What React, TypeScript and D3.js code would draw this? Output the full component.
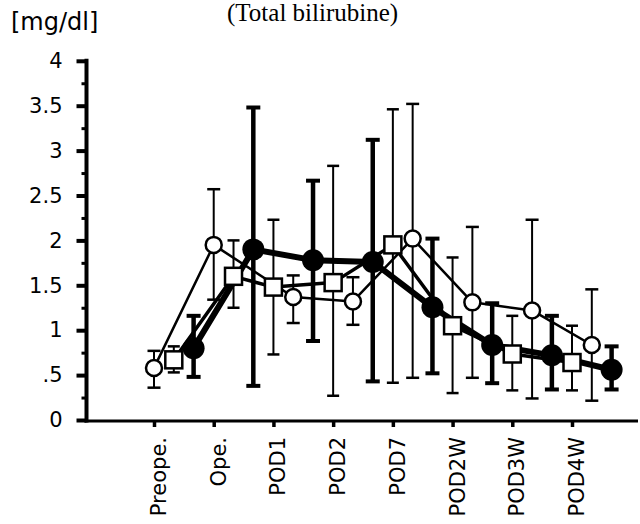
import { useEffect, useRef } from 'react';
import * as d3 from 'd3';

const categories = ['Preope.', 'Ope.', 'POD1', 'POD2', 'POD7', 'POD2W', 'POD3W', 'POD4W'];

// open circles
const openMean = [0.58, 1.95, 1.37, 1.32, 2.02, 1.31, 1.22, 0.835];
const openUpper = [0.77, 2.57, 1.61, 1.59, 3.52, 2.15, 2.23, 1.455];
const openLower = [0.36, 1.34, 1.08, 1.06, 0.47, 0.47, 0.24, 0.215];
const openSlot = [0, 0, 1, 1, 1, 1, 1, 1];

// open squares
const squareMean = [0.67, 1.6, 1.48, 1.53, 1.95, 1.05, 0.735, 0.64];
const squareUpper = [0.82, 2.0, 2.23, 2.83, 3.46, 1.81, 1.16, 1.05];
const squareLower = [0.53, 1.25, 0.73, 0.27, 0.415, 0.3, 0.33, 0.33];
const squareSlot = [1, 1, 0, 0, 0, 0, 0, 0];

// filled circles
const filledMean = [0.8, 1.9, 1.78, 1.76, 1.255, 0.835, 0.72, 0.56];
const filledUpper = [1.16, 3.48, 2.665, 3.12, 2.02, 1.3, 1.16, 0.82];
const filledLower = [0.48, 0.38, 0.88, 0.43, 0.52, 0.41, 0.34, 0.34];
const filledSlot = [2, 2, 2, 2, 2, 2, 2, 2];

const yTicks = [0, 0.5, 1, 1.5, 2, 2.5, 3, 3.5, 4];
const yTickLabels = ['0', '.5', '1', '1.5', '2', '2.5', '3', '3.5', '4'];
const yMinorTicks = [0.25, 0.75, 1.25, 1.75, 2.25, 2.75, 3.25, 3.75];

export default function App() {
  const svgRef = useRef<SVGSVGElement>(null);

  useEffect(() => {
    if (!svgRef.current) return;
    const width = 640;
    const height = 524;
    const axisX = 86.5;
    const axisY = 421;
    const slotW = 19.8;
    const sans = '"DejaVu Sans", sans-serif';

    d3.select(svgRef.current).selectAll('*').remove();
    const svg = d3.select(svgRef.current).attr('width', width).attr('height', height);

    const x = d3.scalePoint<string>().domain(categories).range([154, 572]);
    const y = d3.scaleLinear().domain([0, 4]).range([420, 60.8]);

    // title + unit
    svg.append('text')
      .attr('x', 227).attr('y', 21)
      .style('font-family', '"Liberation Serif", "Times New Roman", serif')
      .style('font-size', '25px')
      .text('(Total bilirubine)');

    svg.append('text')
      .attr('x', 11).attr('y', 30)
      .style('font-family', sans)
      .style('font-size', '24px')
      .text('[mg/dl]');

    // y axis
    const yAxis = svg.append('g')
      .attr('transform', `translate(${axisX},0)`)
      .call(d3.axisLeft(y).tickValues(yTicks).tickFormat((_, i) => yTickLabels[i]).tickSize(10).tickSizeOuter(0).tickPadding(14));
    yAxis.select('.domain').remove();
    yAxis.selectAll('line').attr('stroke', '#000').attr('stroke-width', 4);
    yAxis.selectAll('text')
      .style('font-family', sans)
      .style('font-size', '21px')
      .attr('fill', '#000');

    svg.append('g')
      .attr('transform', `translate(${axisX},0)`)
      .call(d3.axisLeft(y).tickValues(yMinorTicks).tickFormat(() => '').tickSize(5).tickSizeOuter(0))
      .call(g => g.select('.domain').remove())
      .selectAll('line').attr('stroke', '#000').attr('stroke-width', 3);

    svg.append('line')
      .attr('x1', axisX).attr('x2', axisX)
      .attr('y1', y(4) - 2).attr('y2', axisY + 1.5)
      .attr('stroke', '#000').attr('stroke-width', 4);

    // x axis
    svg.append('line')
      .attr('x1', axisX - 2).attr('x2', 638)
      .attr('y1', axisY).attr('y2', axisY)
      .attr('stroke', '#000').attr('stroke-width', 3);

    const xAxis = svg.append('g')
      .attr('transform', `translate(0,${axisY})`)
      .call(d3.axisBottom(x).tickSize(6).tickSizeOuter(0).tickFormat(() => ''));
    xAxis.select('.domain').remove();
    xAxis.selectAll('line').attr('stroke', '#000').attr('stroke-width', 3.5);

    svg.append('g')
      .selectAll('text')
      .data(categories)
      .join('text')
      .attr('transform', d => `translate(${(x(d) ?? 0) + 12},437) rotate(-90)`)
      .attr('text-anchor', 'end')
      .style('font-family', sans)
      .style('font-size', '21px')
      .text(d => d);

    type Series = {
      mean: number[]; upper: number[]; lower: number[]; slot: number[];
      line: number; bar: number; cap: number; capW: number;
    };
    const series: Record<string, Series> = {
      square: { mean: squareMean, upper: squareUpper, lower: squareLower, slot: squareSlot, line: 3.5, bar: 2, cap: 2.5, capW: 12 },
      open: { mean: openMean, upper: openUpper, lower: openLower, slot: openSlot, line: 2.5, bar: 2, cap: 2.5, capW: 13 },
      filled: { mean: filledMean, upper: filledUpper, lower: filledLower, slot: filledSlot, line: 6, bar: 4.5, cap: 4, capW: 14 },
    };
    const px = (s: Series, i: number) => (x(categories[i]) ?? 0) + s.slot[i] * slotW;

    // error bars
    Object.values(series).forEach(s => {
      const g = svg.append('g').attr('stroke', '#000');
      categories.forEach((_, i) => {
        const cx = px(s, i);
        g.append('line')
          .attr('x1', cx).attr('x2', cx)
          .attr('y1', y(s.upper[i])).attr('y2', y(s.lower[i]))
          .attr('stroke-width', s.bar);
        [s.upper[i], s.lower[i]].forEach(v => {
          g.append('line')
            .attr('x1', cx - s.capW / 2).attr('x2', cx + s.capW / 2)
            .attr('y1', y(v)).attr('y2', y(v))
            .attr('stroke-width', s.cap);
        });
      });
    });

    // connecting lines
    Object.values(series).forEach(s => {
      const line = d3.line<number>()
        .x((_, i) => px(s, i))
        .y(d => y(d));
      svg.append('path')
        .datum(s.mean)
        .attr('d', line)
        .attr('fill', 'none')
        .attr('stroke', '#000')
        .attr('stroke-width', s.line)
        .attr('stroke-linejoin', 'round');
    });

    // markers
    const sq = series.square;
    svg.append('g')
      .selectAll('rect')
      .data(sq.mean)
      .join('rect')
      .attr('x', (_, i) => px(sq, i) - 8.5)
      .attr('y', d => y(d) - 8.5)
      .attr('width', 17).attr('height', 17)
      .attr('fill', '#fff').attr('stroke', '#000').attr('stroke-width', 2.5);

    const op = series.open;
    svg.append('g')
      .selectAll('circle')
      .data(op.mean)
      .join('circle')
      .attr('cx', (_, i) => px(op, i))
      .attr('cy', d => y(d))
      .attr('r', 8)
      .attr('fill', '#fff').attr('stroke', '#000').attr('stroke-width', 2.5);

    const fl = series.filled;
    svg.append('g')
      .selectAll('circle')
      .data(fl.mean)
      .join('circle')
      .attr('cx', (_, i) => px(fl, i))
      .attr('cy', d => y(d))
      .attr('r', 11)
      .attr('fill', '#000');
  }, []);

  return (
    <svg ref={svgRef} style={{ position: 'absolute', left: 0, top: 0, background: '#fff', display: 'block' }}></svg>
  );
}
